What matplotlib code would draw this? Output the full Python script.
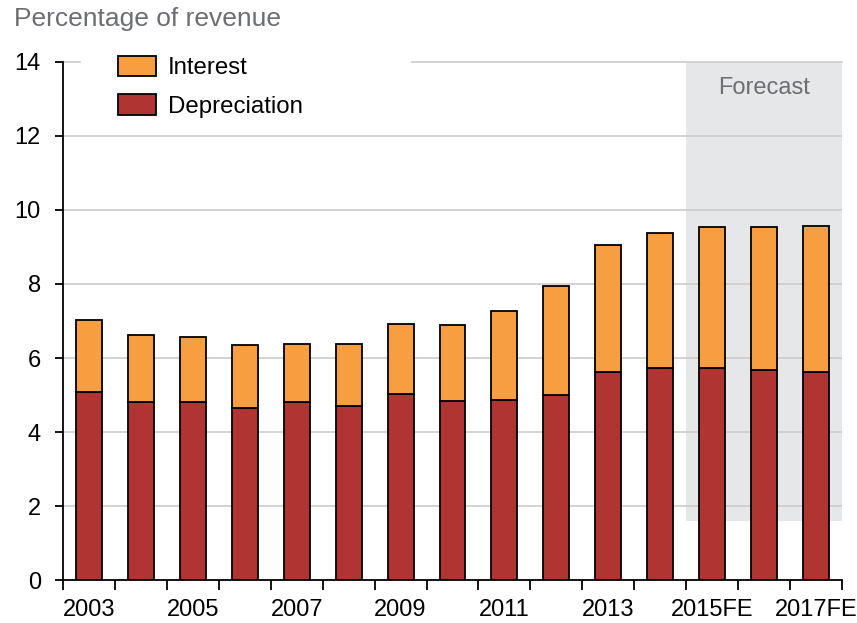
import matplotlib
matplotlib.use('Agg')
import matplotlib.pyplot as plt
import numpy as np

plt.rcParams['font.family'] = ['Liberation Sans', 'DejaVu Sans']

# data (percentage of revenue)
years = ['2003', '2004', '2005', '2006', '2007', '2008', '2009', '2010',
         '2011', '2012', '2013', '2014', '2015FE', '2016FE', '2017FE']
depreciation = [5.07, 4.80, 4.80, 4.66, 4.80, 4.70, 5.02, 4.84,
                4.87, 5.01, 5.63, 5.72, 5.72, 5.67, 5.63]
interest = [1.95, 1.82, 1.78, 1.69, 1.59, 1.69, 1.90, 2.04,
            2.40, 2.93, 3.42, 3.65, 3.82, 3.87, 3.95]
forecast_start = 12          # index of first forecast year
forecast_floor = 1.6         # shaded band does not reach the axis
y_ticks = [0, 2, 4, 6, 8, 10, 12, 14]

RED = '#b03432'
ORANGE = '#f79f40'
GREY_TXT = '#6d6e71'
SHADE = '#e6e7e9'
GRID = '#cccccc'

fig = plt.figure(figsize=(8.57, 6.23), dpi=100)
ax = fig.add_axes([0.0735, 0.069, 0.909, 0.8315])

x = np.arange(len(years))
ax.set_xlim(-0.5, len(years) - 0.5)
ax.set_ylim(y_ticks[0], y_ticks[-1])

# forecast band
ax.axvspan(forecast_start - 0.5, len(years) - 0.5,
           ymin=forecast_floor / y_ticks[-1], ymax=1,
           color=SHADE, lw=0, zorder=0)
ax.text(x[forecast_start:].mean(), 13.3, 'Forecast', ha='center', va='center',
        fontsize=17, color=GREY_TXT, zorder=1)

# gridlines, the top one is broken by the legend
for yv in y_ticks[1:-1]:
    ax.axhline(yv, color=GRID, lw=1.2, zorder=1)
ax.axhline(y_ticks[-1], xmin=0, xmax=0.022, color=GRID, lw=1.2, zorder=1, clip_on=False)
ax.axhline(y_ticks[-1], xmin=0.448, xmax=1, color=GRID, lw=1.2, zorder=1, clip_on=False)

w = 0.5
ax.bar(x, depreciation, w, color=RED, edgecolor='black', linewidth=1.3,
       label='Depreciation', zorder=3)
ax.bar(x, interest, w, bottom=depreciation, color=ORANGE, edgecolor='black',
       linewidth=1.3, label='Interest', zorder=3)

handles, labels = ax.get_legend_handles_labels()
ax.legend(handles[::-1], labels[::-1], loc='upper left',
          bbox_to_anchor=(0.070, 1.012), frameon=False, fontsize=17.3,
          handlelength=1.6, handleheight=0.95, handletextpad=0.5,
          labelspacing=0.62, borderaxespad=0, borderpad=0)

# axes styling
for s in ['top', 'right']:
    ax.spines[s].set_visible(False)
ax.spines['left'].set_linewidth(1.3)
ax.spines['bottom'].set_linewidth(1.3)

ax.set_yticks(y_ticks)
ax.tick_params(axis='y', direction='out', length=6, width=1.3, pad=10, labelsize=17)

ax.set_xticks(np.arange(-0.5, len(years)), minor=False)
ax.set_xticklabels([])
ax.set_xticks(x[::2], minor=True)
ax.set_xticklabels(years[::2], minor=True)
ax.tick_params(axis='x', which='major', direction='out', length=7, width=1.3)
ax.tick_params(axis='x', which='minor', length=0, pad=14, labelsize=17)

fig.text(0.016, 0.988, 'Percentage of revenue', ha='left', va='top',
         fontsize=19, color=GREY_TXT)

fig.savefig('out.png', dpi=100)
